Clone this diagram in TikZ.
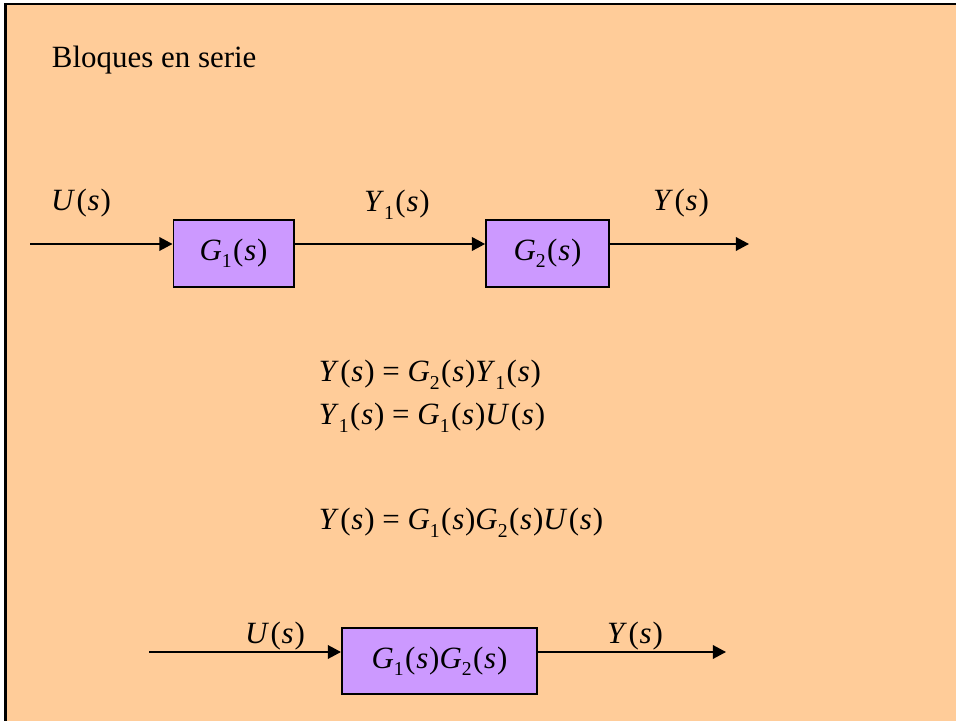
\documentclass[tikz,border=0pt]{standalone}
\usepackage{fontspec}
\setmainfont{Liberation Serif}
\usetikzlibrary{calc, positioning}
\usetikzlibrary{arrows.meta}

\definecolor{peach}{HTML}{FFCC99}
\definecolor{lila}{HTML}{CC99FF}

\newcommand{\sig}[2]{\textit{#1}\raisebox{-5pt}{\fontsize{14}{14}\selectfont #2}%
  \kern1pt(\kern0.6pt\textit{s}\kern0.6pt)}

\tikzset{
  texto/.style={font=\fontsize{22}{26}\selectfont},
  bloque/.style={texto, draw=black, line width=1.4pt, fill=lila,
    inner sep=0pt, minimum height=1.675cm},
  senal/.style={line width=1.3pt, -{Triangle[length=3.3mm, width=3.4mm]}},
  etiq/.style={texto, anchor=base},
}

\begin{document}
\begin{tikzpicture}[x=0.025cm, y=-0.025cm]
\useasboundingbox (0,0) rectangle (956,721);
\fill[white] (0,0) rectangle (956,721);
\draw[line width=1.6pt, fill=peach] (5.5,4) rectangle (990,740);

\node[texto, anchor=base west] (titulo) at (47,68) {Bloques en serie};

% bloques en serie
\node[bloque, minimum width=3cm] (g1) at (233.5,253.5) {\sig{G}{1}};
\node[bloque, minimum width=3.07cm] (g2) at (547.5,253.5) {\sig{G}{2}};

\coordinate (in1) at (30,244);
\coordinate (out1) at (749,244);

\draw[senal] (in1) -- (in1 -| g1.west);
\draw[senal] (g1.east |- in1) -- (g2.west |- in1);
\draw[senal] (g2.east |- in1) -- (out1);

\node[etiq] (u1) at (81,211) {\sig{U}{}};
\node[etiq] (y1) at (397,212) {\sig{Y}{1}};
\node[etiq] (ys1) at (681,211) {\sig{Y}{}};

% ecuaciones
\node[texto, anchor=base west] (eq1) at (314,382)
  {\sig{Y}{} = \sig{G}{2}\sig{Y}{1}};
\node[texto, anchor=base west] (eq2) at (314,425)
  {\sig{Y}{1} = \sig{G}{1}\sig{U}{}};
\node[texto, anchor=base west] (eq3) at (314,530)
  {\sig{Y}{} = \sig{G}{1}\sig{G}{2}\sig{U}{}};

% bloque equivalente
\node[bloque, minimum width=4.875cm, minimum height=1.65cm] (g12) at (439.5,661)
  {\sig{G}{1}\sig{G}{2}};

\coordinate (in2) at (149,652);
\coordinate (out2) at (726,652);

\draw[senal] (in2) -- (in2 -| g12.west);
\draw[senal] (g12.east |- in2) -- (out2);

\node[etiq] (u2) at (275,643) {\sig{U}{}};
\node[etiq] (ys2) at (635,643) {\sig{Y}{}};
\end{tikzpicture}
\end{document}
